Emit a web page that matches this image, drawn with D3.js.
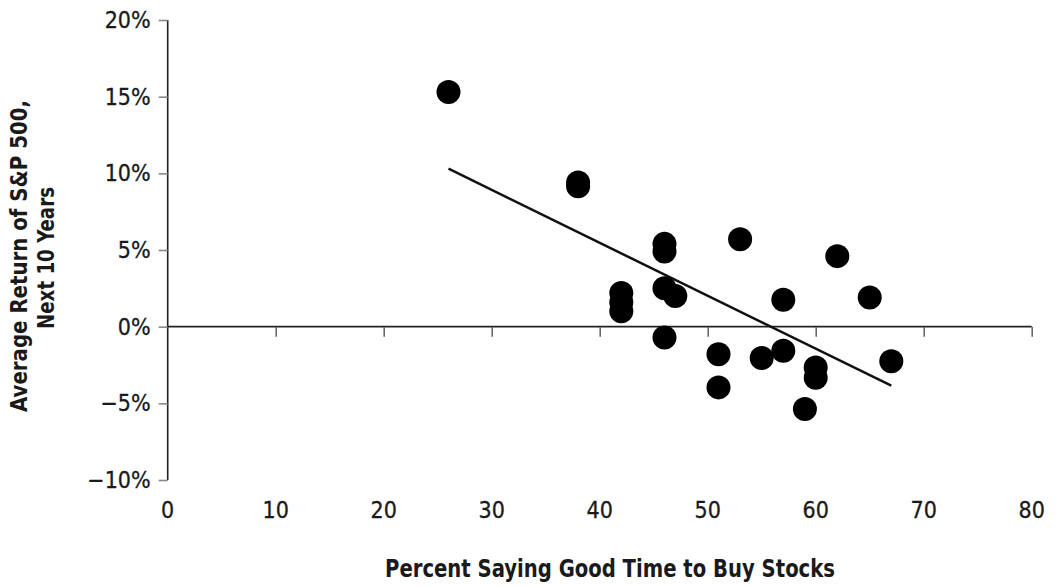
<!DOCTYPE html>
<html><head><meta charset="utf-8">
<script src="https://cdn.jsdelivr.net/npm/d3@7"></script>
<style>
body{margin:0;background:#fff;}
text{font-family:"DejaVu Sans Condensed","DejaVu Sans",sans-serif;fill:#1a1a1a;}
</style></head>
<body><svg id="c" width="1059" height="587"></svg>
<script>
const xVals = [26, 38, 38, 42, 42, 42, 46, 46, 46, 46, 47, 51, 51, 53, 55, 57, 57, 59, 60, 60, 62, 65, 67];
const yVals = [15.3, 9.4, 9.15, 2.2, 1.6, 1.0, 5.4, 4.9, 2.5, -0.7, 2.0, -1.8, -3.96, 5.7, -2.04, 1.75, -1.57, -5.37, -2.67, -3.33, 4.6, 1.9, -2.26];
const trendX = [26, 67];
const trendY = [10.3, -3.85];
const xTicks = [0, 10, 20, 30, 40, 50, 60, 70, 80];
const yTicks = [20, 15, 10, 5, 0, -5, -10];
const xTitle = "Percent Saying Good Time to Buy Stocks";
const yTitle = ["Average Return of S&P 500,", "Next 10 Years"];

const svg = d3.select("#c");
const x = d3.scaleLinear().domain([0, 80]).range([167.7, 1031.7]);
const y = d3.scaleLinear().domain([-10, 20]).range([480, 20]);

// y axis
const yAxis = svg.append("g").attr("transform", `translate(${x(0)},0)`)
  .call(d3.axisLeft(y).tickValues(yTicks).tickSize(9).tickPadding(8)
    .tickFormat(d => (d < 0 ? "\u2212" + Math.abs(d) : d) + "%"));
yAxis.select(".domain").attr("stroke", "#222").attr("stroke-width", 1.6).attr("d", `M0,${y(20)}V${y(-10)}`);
yAxis.selectAll(".tick line").attr("stroke", "#888").attr("stroke-width", 1.6);
yAxis.selectAll(".tick text").attr("font-size", 23).attr("fill", "#1a1a1a")
  .attr("stroke", "#1a1a1a").attr("stroke-width", 0.3)
  .style("font-family", '"DejaVu Sans Condensed","DejaVu Sans",sans-serif');

// zero line with x ticks
const xAxis = svg.append("g").attr("transform", `translate(0,${y(0)})`)
  .call(d3.axisBottom(x).tickValues(xTicks.filter(d => d > 0)).tickSize(10).tickFormat(""));
xAxis.select(".domain").attr("stroke", "#222").attr("stroke-width", 1.6).attr("d", `M${x(0)},0H${x(80)}`);
xAxis.selectAll(".tick line").attr("stroke", "#555").attr("stroke-width", 1.4);

// x tick labels at bottom
svg.append("g").selectAll("text").data(xTicks).join("text")
  .attr("x", d => x(d)).attr("y", 511).attr("text-anchor", "middle")
  .attr("stroke", "#1a1a1a").attr("stroke-width", 0.3)
  .attr("dominant-baseline", "middle").attr("font-size", 23).text(d => d);

// trend line
svg.append("line")
  .attr("x1", x(trendX[0])).attr("y1", y(trendY[0]))
  .attr("x2", x(trendX[1])).attr("y2", y(trendY[1]))
  .attr("stroke", "#111").attr("stroke-width", 2.5);

// points
svg.append("g").selectAll("circle").data(xVals.map((d, i) => [d, yVals[i]])).join("circle")
  .attr("cx", d => x(d[0])).attr("cy", d => y(d[1])).attr("r", 12).attr("fill", "#000");

// titles
svg.append("text").attr("x", 610).attr("y", 577).attr("text-anchor", "middle")
  .attr("font-size", 24).attr("font-weight", "bold")
  .attr("textLength", 450).attr("lengthAdjust", "spacingAndGlyphs").text(xTitle);
svg.append("text").attr("transform", "translate(27,256) rotate(-90)").attr("text-anchor", "middle")
  .attr("font-size", 23).attr("font-weight", "bold")
  .attr("textLength", 312).attr("lengthAdjust", "spacingAndGlyphs").text(yTitle[0]);
svg.append("text").attr("transform", "translate(54,258) rotate(-90)").attr("text-anchor", "middle")
  .attr("font-size", 23).attr("font-weight", "bold")
  .attr("textLength", 142).attr("lengthAdjust", "spacingAndGlyphs").text(yTitle[1]);
</script></body></html>
